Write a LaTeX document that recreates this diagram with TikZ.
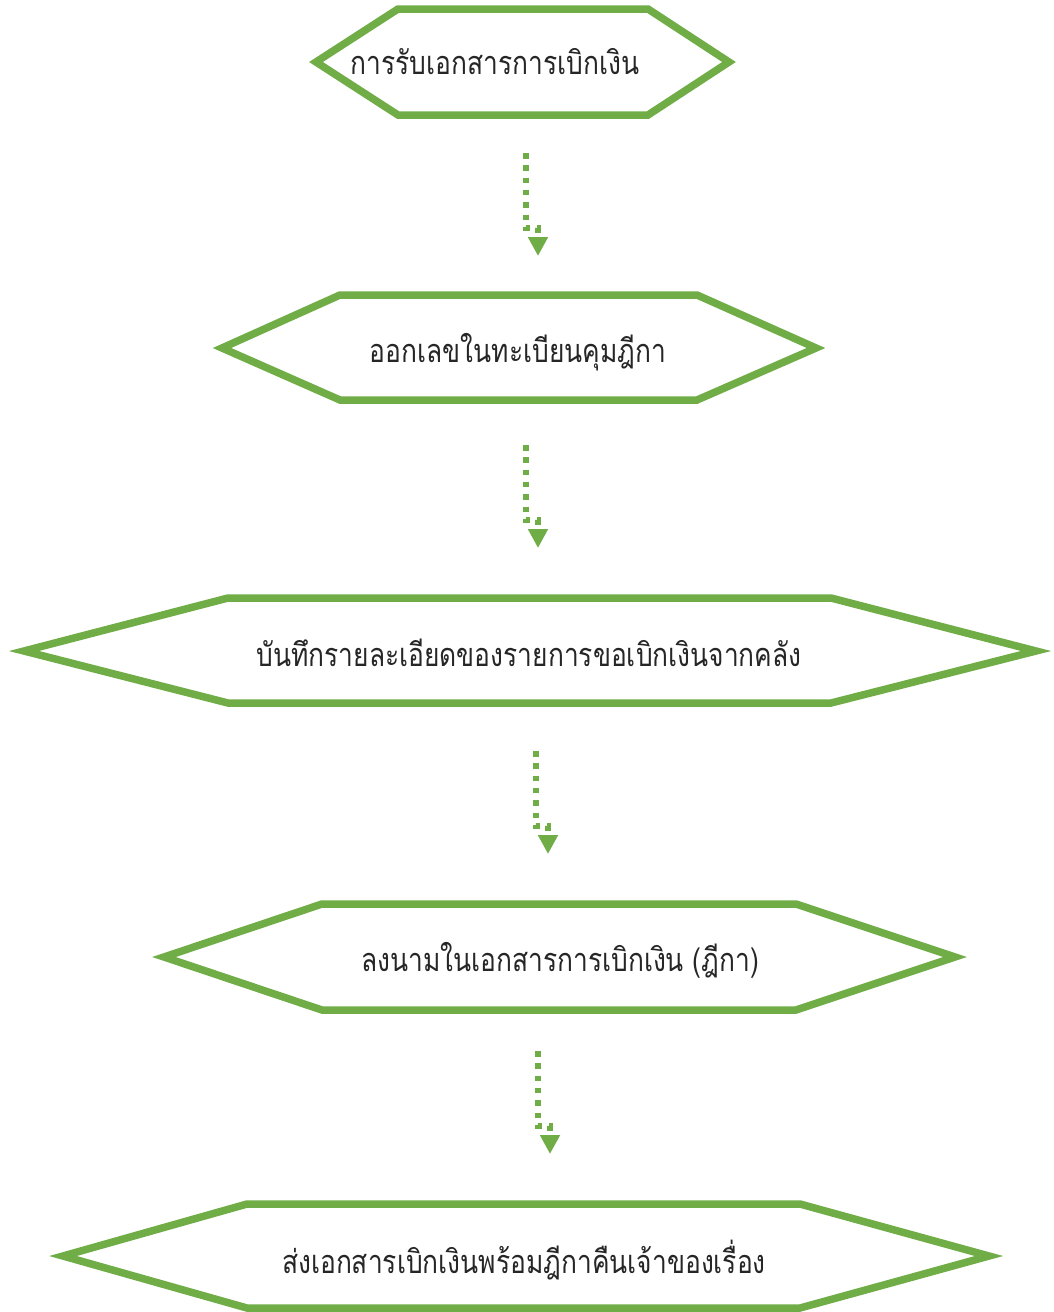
\documentclass[tikz,border=0pt]{standalone}
\usepackage{fontspec}
\usetikzlibrary{arrows.meta}
\newfontfamily\thaifont[Script=Thai]{Loma}
\definecolor{leafgreen}{HTML}{70AD47}
\def\hexa(#1,#2,#3,#4)(#5,#6,#7){\draw[line width=7.5pt, color=leafgreen, line join=miter] (#1, #6) -- (#2, #5) -- (#3, #5) -- (#4, #6) -- (#3, #7) -- (#2, #7) -- cycle;}
\tikzset{
	steptext/.style={font=\thaifont\fontsize{29}{34}\selectfont, text=black!85, inner sep=0pt, xscale=0.91, yscale=1.12},
	flowlink/.style={line width=5.5pt, color=leafgreen, dash pattern=on 5.5pt off 6.8pt, -{Triangle[width=19pt,length=19pt]}}
}

\begin{document}
\begin{tikzpicture}[x=1pt, y=-1pt]
		%%%%% START %%%%%
		
		\useasboundingbox (0, 0) rectangle (1054, 1312);
		
		\hexa(316, 398, 648, 729)(9, 62, 115)
		\node[steptext] (recv) at (495, 62) {การรับเอกสารการเบิกเงิน};
		
		\hexa(222, 340, 697, 816)(295, 348, 400)
		\node[steptext] (regno) at (518, 352) {ออกเลขในทะเบียนคุมฎีกา};
		
		\hexa(24, 228, 831, 1036)(598, 651, 703)
		\node[steptext] (record) at (529, 653) {บันทึกรายละเอียดของรายการขอเบิกเงินจากคลัง};
		
		\hexa(164, 322, 796, 955)(904, 957, 1010)
		\node[steptext] (sign) at (560, 960) {ลงนามในเอกสารการเบิกเงิน (ฎีกา)};
		
		\hexa(63, 247, 800, 989)(1204, 1256, 1308)
		\node[steptext] (back) at (524, 1260) {ส่งเอกสารเบิกเงินพร้อมฎีกาคืนเจ้าของเรื่อง};
		
		% links between the steps
		\coordinate (s1) at (526, 153);  \coordinate (j1) at (538, 228);  \coordinate (e1) at (538, 256);
		\coordinate (s2) at (526, 445);  \coordinate (j2) at (538, 520);  \coordinate (e2) at (538, 548);
		\coordinate (s3) at (536, 751);  \coordinate (j3) at (548, 826);  \coordinate (e3) at (548, 854);
		\coordinate (s4) at (538, 1051); \coordinate (j4) at (550, 1126); \coordinate (e4) at (550, 1154);
		
		\draw[flowlink] (s1) -- (s1 |- j1) -- (j1) -- (e1);
		\draw[flowlink] (s2) -- (s2 |- j2) -- (j2) -- (e2);
		\draw[flowlink] (s3) -- (s3 |- j3) -- (j3) -- (e3);
		\draw[flowlink] (s4) -- (s4 |- j4) -- (j4) -- (e4);
		
		%%%%% END %%%%%
	\end{tikzpicture}
\end{document}
